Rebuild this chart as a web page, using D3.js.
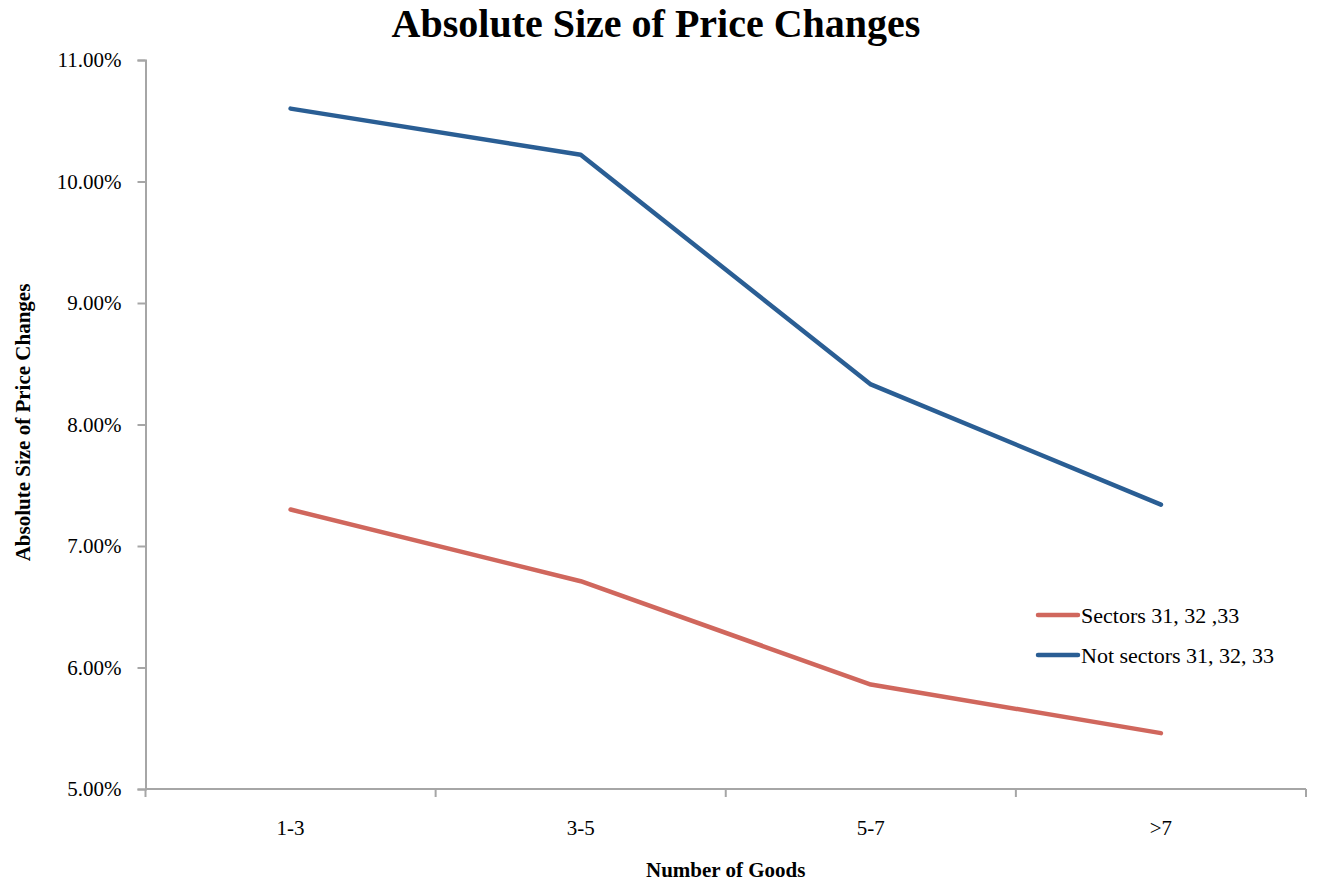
<!DOCTYPE html>
<html>
<head>
<meta charset="utf-8">
<script src="https://cdn.jsdelivr.net/npm/d3@7"></script>
<style>
  html, body { margin: 0; padding: 0; background: #fff; }
  svg text { font-family: "Palatino Linotype", "Book Antiqua", Palatino, "Liberation Serif", serif; fill: #000; }
</style>
</head>
<body>
<svg id="chart" width="1324" height="886"></svg>
<script>
// Number-of-goods buckets along the x axis
const categories = ["1-3", "3-5", "5-7", ">7"];
// Mean absolute price change (percent) per bucket
const sectors = [7.30, 6.71, 5.86, 5.46];
const notSectors = [10.60, 10.22, 8.33, 7.34];
// Y tick values (percent)
const yTicks = [5, 6, 7, 8, 9, 10, 11];

const seriesList = [
  { name: "Sectors 31, 32 ,33", values: sectors, color: "#D0675D" },
  { name: "Not sectors 31, 32, 33", values: notSectors, color: "#2A5E94" }
];

const svg = d3.select("#chart");
const margin = { left: 145.5, right: 18, top: 60, bottom: 97 };
const W = 1324, H = 886;
const plotW = W - margin.left - margin.right;
const plotH = H - margin.top - margin.bottom;

const g = svg.append("g").attr("transform", `translate(${margin.left},${margin.top})`);

const x = d3.scaleBand().domain(categories).range([0, plotW]).padding(0);
const y = d3.scaleLinear().domain([5, 11]).range([plotH, 0]);

const axisColor = "#A6A6A6";
const labelSize = 21;

// Y axis
const yAxis = g.append("g")
  .call(d3.axisLeft(y).tickValues(yTicks).tickFormat(d => d3.format(".2f")(d) + "%").tickSize(8).tickPadding(16));
yAxis.select(".domain").attr("stroke", axisColor).attr("stroke-width", 2);
yAxis.selectAll(".tick line").attr("stroke", axisColor).attr("stroke-width", 2);
yAxis.selectAll(".tick text").attr("font-size", labelSize).style("font-family", null);

// X axis with tick marks at band edges
const xAxis = g.append("g").attr("transform", `translate(0,${plotH})`);
xAxis.append("line").attr("x1", 0).attr("x2", plotW).attr("y1", 0).attr("y2", 0)
  .attr("stroke", axisColor).attr("stroke-width", 2);
const edges = categories.map(c => x(c)).concat([plotW]);
xAxis.selectAll("line.edge").data(edges).enter().append("line").attr("class", "edge")
  .attr("x1", d => d).attr("x2", d => d).attr("y1", 0).attr("y2", 8)
  .attr("stroke", axisColor).attr("stroke-width", 2);
xAxis.selectAll("text.cat").data(categories).enter().append("text").attr("class", "cat")
  .attr("x", d => x(d) + x.bandwidth() / 2).attr("y", 46)
  .attr("text-anchor", "middle").attr("font-size", labelSize).text(d => d);

// Lines
const line = d3.line()
  .x((d, i) => x(categories[i]) + x.bandwidth() / 2)
  .y(d => y(d));
seriesList.forEach(s => {
  g.append("path").datum(s.values)
    .attr("d", line).attr("fill", "none")
    .attr("stroke", s.color).attr("stroke-width", 4.5)
    .attr("stroke-linecap", "round").attr("stroke-linejoin", "round");
});

// Legend
const legend = svg.append("g").attr("transform", "translate(1038,615)");
seriesList.forEach((s, i) => {
  const row = legend.append("g").attr("transform", `translate(0,${i * 40})`);
  row.append("line").attr("x1", 0).attr("x2", 40).attr("y1", 0).attr("y2", 0)
    .attr("stroke", s.color).attr("stroke-width", 4.5).attr("stroke-linecap", "round");
  row.append("text").attr("x", 43).attr("y", 8).attr("font-size", 22).text(s.name);
});

// Titles
svg.append("text").attr("x", 656).attr("y", 37).attr("text-anchor", "middle")
  .attr("font-size", 40).attr("font-weight", "bold").text("Absolute Size of Price Changes");
svg.append("text").attr("transform", `translate(30,${margin.top + plotH / 2 - 2}) rotate(-90)`)
  .attr("text-anchor", "middle").attr("font-size", 21).attr("font-weight", "bold")
  .text("Absolute Size of Price Changes");
svg.append("text").attr("x", margin.left + plotW / 2).attr("y", 877).attr("text-anchor", "middle")
  .attr("font-size", 21).attr("font-weight", "bold").text("Number of Goods");
</script>
</body>
</html>
